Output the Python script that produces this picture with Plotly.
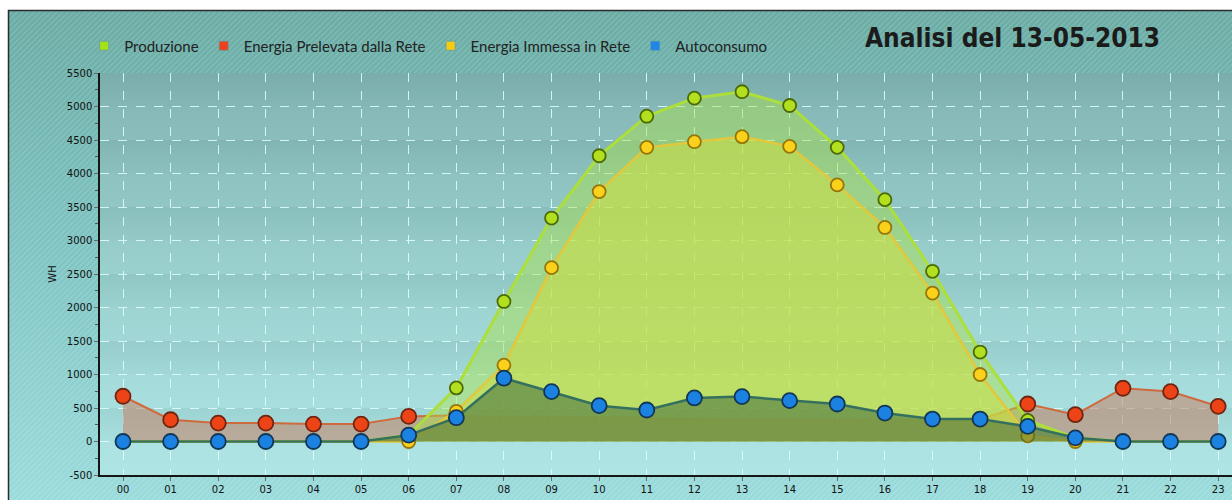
import base64
import plotly.graph_objects as go

# Hourly energy readings (Wh) for 13-05-2013
hours = list(range(24))
hour_labels = [f"{h:02d}" for h in hours]

produzione = [0, 0, 0, 0, 0, 0, 95, 800, 2090, 3335, 4265, 4855,
              5125, 5220, 5015, 4390, 3610, 2540, 1335, 315, 55, 0, 0, 0]
# no grid withdrawal is plotted during the production hours
prelevata = [675, 325, 275, 275, 260, 260, 375, 390, None, None, None, None,
             None, None, None, None, None, None, 330, 560, 400, 795, 745, 525]
immessa = [0, 0, 0, 0, 0, 0, 0, 450, 1140, 2595, 3730, 4390,
           4475, 4550, 4405, 3830, 3195, 2215, 1000, 85, 0, 0, 0, 0]
autoconsumo = [0, 0, 0, 0, 0, 0, 95, 355, 945, 745, 535, 470,
               650, 670, 610, 560, 425, 335, 335, 225, 55, 0, 0, 0]

y_ticks = list(range(-500, 5501, 500))

W, H = 1232, 500
ML, MR, MT, MB = 100, 0, 73, 25
PW, PH = W - ML - MR, H - MT - MB

# Background artwork: striped teal panel with a gradient plotting area
bands = ""
band_h = PH / 12
for i in range(12):
    if i % 2 == 0:
        bands += (f'<rect x="{ML}" y="{MT + i * band_h:.2f}" width="{PW}" '
                  f'height="{band_h:.2f}" fill="url(#band)"/>')
svg = f'''<svg xmlns="http://www.w3.org/2000/svg" width="{W}" height="{H}" viewBox="0 0 {W} {H}" preserveAspectRatio="none">
<defs>
<linearGradient id="bg" x1="0" y1="0" x2="0" y2="1">
<stop offset="0" stop-color="#69aba3"/><stop offset="0.45" stop-color="#7cc2c0"/><stop offset="1" stop-color="#9adcdc"/>
</linearGradient>
<pattern id="st" width="4" height="4" patternUnits="userSpaceOnUse" patternTransform="rotate(45)">
<rect width="1.4" height="4" fill="#ffffff" fill-opacity="0.16"/>
</pattern>
<linearGradient id="pa" x1="0" y1="0" x2="0" y2="1">
<stop offset="0" stop-color="#82b4b2"/><stop offset="0.5" stop-color="#9ad0ce"/><stop offset="1" stop-color="#afe5e5"/>
</linearGradient>
<linearGradient id="band" x1="0" y1="0" x2="0" y2="1">
<stop offset="0" stop-color="#1d5a58" stop-opacity="0.08"/><stop offset="1" stop-color="#1d5a58" stop-opacity="0.02"/>
</linearGradient>
</defs>
<rect width="{W}" height="{H}" fill="#ffffff"/>
<rect x="8.5" y="10.5" width="{W}" height="{H}" fill="url(#bg)" stroke="#2b2b2b" stroke-width="1.5"/>
<rect x="9.5" y="11.5" width="{W}" height="{H}" fill="url(#st)"/>
<rect x="{ML}" y="{MT}" width="{PW}" height="{PH}" fill="url(#pa)"/>
{bands}
</svg>'''
svg_uri = "data:image/svg+xml;base64," + base64.b64encode(svg.encode()).decode()

fig = go.Figure()


def add_series(name, values, line_color, line_width, fill_color, marker_color, edge_color, size):
    fig.add_trace(go.Scatter(
        x=hours, y=values, name=name, mode="lines+markers",
        fill="tozeroy", fillcolor=fill_color, connectgaps=False,
        line=dict(color=line_color, width=line_width),
        marker=dict(size=size, color=marker_color,
                    line=dict(color=edge_color, width=1.8)),
        showlegend=False, hoverinfo="x+y",
    ))


add_series("Energia Prelevata dalla Rete", prelevata, "#cf6a3e", 2,
           "rgba(198,130,100,0.55)", "#ec4416", "#6e2410", 15)
add_series("Produzione", produzione, "#acdf3a", 3,
           "rgba(172,226,62,0.42)", "#b2e01e", "#4c6a08", 13)
add_series("Energia Immessa in Rete", immessa, "#e2c83a", 2.5,
           "rgba(206,222,64,0.55)", "#fcd11c", "#94760a", 13)
add_series("Autoconsumo", autoconsumo, "#35705f", 2.5,
           "rgba(66,108,60,0.55)", "#1c82e2", "#113656", 15)

# Legend entries shown as small squares
legend_items = [("Produzione", "#a6e01a"),
                ("Energia Prelevata dalla Rete", "#f0401a"),
                ("Energia Immessa in Rete", "#f6cc10"),
                ("Autoconsumo", "#1f86e6")]
for label, color in legend_items:
    fig.add_trace(go.Scatter(
        x=[None], y=[None], name=label, mode="markers",
        marker=dict(symbol="square", size=9, color=color,
                    line=dict(color="rgba(90,150,170,0.6)", width=1)),
        showlegend=True,
    ))

fig.add_annotation(
    text="Analisi del 13-05-2013", xref="paper", yref="paper",
    x=(1012 - ML) / PW, y=(H - MB - 38) / PH, xanchor="center", yanchor="middle",
    showarrow=False,
    font=dict(family="DejaVu Sans Condensed, sans-serif",
              size=26, color="#1b1b1b", weight="bold"),
)

fig.update_layout(
    width=W, height=H,
    margin=dict(l=ML, r=MR, t=MT, b=MB, pad=0),
    paper_bgcolor="rgba(0,0,0,0)", plot_bgcolor="rgba(0,0,0,0)",
    images=[dict(source=svg_uri, xref="paper", yref="paper",
                 x=-ML / PW, y=(H - MB) / PH, sizex=W / PW, sizey=H / PH,
                 xanchor="left", yanchor="top", sizing="stretch", layer="below")],
    legend=dict(orientation="h", x=-0.014, y=(H - MB - 46) / PH,
                xanchor="left", yanchor="middle", bgcolor="rgba(0,0,0,0)",
                itemwidth=30, tracegroupgap=0,
                font=dict(family="Lato, sans-serif", size=15, color="#222222")),
    font=dict(family="DejaVu Sans, sans-serif", color="#111111"),
)

fig.update_xaxes(
    range=[-0.483, 23.29], tickvals=hours, ticktext=hour_labels,
    showgrid=True, gridcolor="rgba(225,255,255,0.85)", griddash="dash", gridwidth=1,
    showline=True, linecolor="#151515", linewidth=2, zeroline=False,
    ticks="outside", ticklen=4, tickcolor="#6a6a6a",
    tickfont=dict(family="DejaVu Sans, sans-serif", size=10, color="#111111"),
    automargin=False, fixedrange=True,
)
fig.update_yaxes(
    range=[-500, 5500], tickvals=y_ticks, ticktext=[str(v) for v in y_ticks],
    showgrid=True, gridcolor="rgba(225,255,255,0.85)", griddash="dash", gridwidth=1,
    showline=True, linecolor="#151515", linewidth=1.5, zeroline=False,
    ticks="outside", ticklen=4, tickcolor="#6a6a6a",
    minor=dict(dtick=250, tick0=0, ticks="outside", ticklen=3, tickcolor="#555555", showgrid=False),
    tickfont=dict(family="DejaVu Sans, sans-serif", size=10, color="#111111"),
    title=dict(text="WH", standoff=8, font=dict(family="DejaVu Sans, sans-serif", size=10, color="#111111")),
    automargin=False, fixedrange=True,
)

fig.write_html("out.html")
